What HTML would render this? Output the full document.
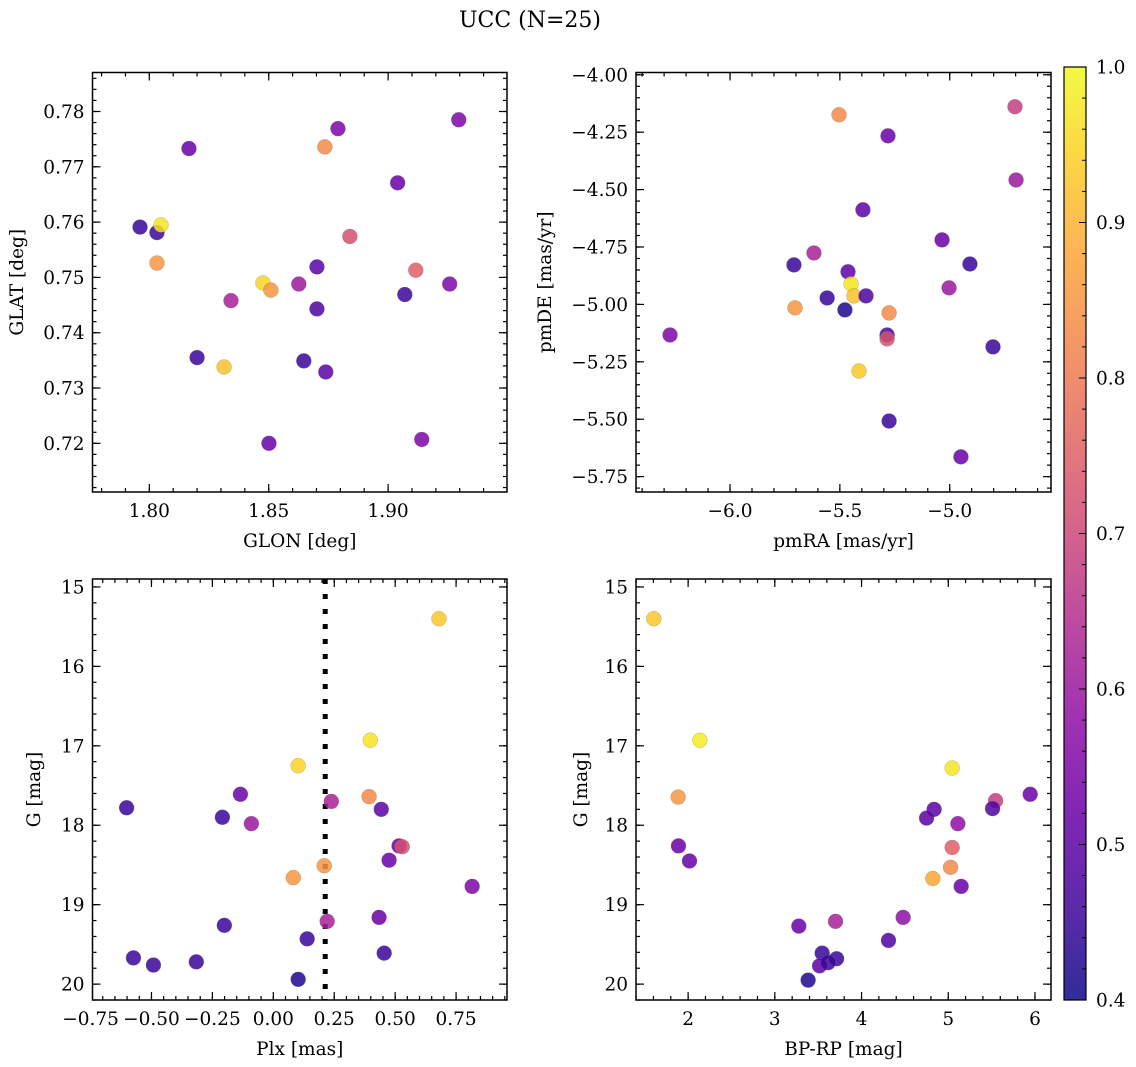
<!DOCTYPE html>
<html><head><meta charset="utf-8"><style>
html,body{margin:0;padding:0;background:#fff;}
svg{display:block;font-family:"DejaVu Serif","Liberation Serif",serif;}
</style></head><body>
<svg id="fig" width="1136" height="1067" viewBox="0 0 1136 1067" xmlns="http://www.w3.org/2000/svg">
<defs>
<linearGradient id="plasma" x1="0" y1="1" x2="0" y2="0">
<stop offset="0" stop-color="#0d0887"/><stop offset="0.1" stop-color="#41049d"/><stop offset="0.2" stop-color="#6a00a8"/><stop offset="0.3" stop-color="#8f0da4"/><stop offset="0.4" stop-color="#b12a90"/><stop offset="0.5" stop-color="#cc4778"/><stop offset="0.6" stop-color="#e16462"/><stop offset="0.7" stop-color="#f2844b"/><stop offset="0.8" stop-color="#fca636"/><stop offset="0.9" stop-color="#fcce25"/><stop offset="1" stop-color="#f0f921"/>
</linearGradient>
</defs>
<text x="530" y="27" font-size="22" text-anchor="middle">UCC (N=25)</text>
</svg>
<script>
// Panel 1: GLON vs GLAT
const p1Glon = [1.9296,1.8790,1.8166,1.8735,1.9040,1.7961,1.8032,1.8049,1.8840,1.8032,1.9116,1.8702,1.8476,1.8509,1.8626,1.9258,1.9070,1.8342,1.8702,1.8200,1.8647,1.8739,1.8313,1.8501,1.9141];
const p1Glat = [0.7785,0.7769,0.7733,0.7736,0.7671,0.7591,0.7581,0.7595,0.7574,0.7526,0.7513,0.7519,0.7490,0.7477,0.7488,0.7488,0.7469,0.7458,0.7443,0.7355,0.7349,0.7329,0.7338,0.7200,0.7207];
const p1Val = [0.55,0.55,0.52,0.83,0.52,0.45,0.45,0.97,0.72,0.85,0.75,0.5,0.95,0.85,0.6,0.55,0.45,0.62,0.48,0.45,0.45,0.5,0.92,0.52,0.55];
// Panel 2: pmRA vs pmDE
const p2PmRA = [-6.273,-5.504,-4.703,-5.281,-4.698,-5.395,-5.035,-5.618,-5.709,-4.908,-5.463,-5.449,-5.436,-5.381,-5.558,-5.003,-5.704,-5.477,-5.276,-5.285,-5.285,-4.803,-5.413,-5.276,-4.949];
const p2PmDE = [-5.133,-4.174,-4.139,-4.266,-4.458,-4.588,-4.719,-4.776,-4.828,-4.824,-4.858,-4.911,-4.963,-4.963,-4.972,-4.928,-5.015,-5.024,-5.037,-5.133,-5.150,-5.185,-5.290,-5.508,-5.664];
const p2Val = [0.55,0.83,0.68,0.52,0.6,0.5,0.52,0.62,0.45,0.45,0.5,0.97,0.92,0.48,0.45,0.6,0.85,0.42,0.83,0.48,0.72,0.45,0.93,0.45,0.52];
// Panel 3: Plx vs G
const p3Plx = [0.680,0.398,0.102,-0.135,-0.602,0.238,0.393,0.443,-0.209,-0.090,0.516,0.529,0.475,0.209,0.082,0.816,-0.201,0.221,0.434,0.139,-0.574,-0.492,-0.316,0.455,0.102];
const p3G = [15.40,16.93,17.25,17.61,17.78,17.70,17.64,17.80,17.90,17.98,18.26,18.27,18.44,18.51,18.66,18.77,19.26,19.21,19.16,19.43,19.67,19.76,19.72,19.61,19.94];
const p3Val = [0.93,0.97,0.95,0.52,0.45,0.62,0.83,0.5,0.45,0.6,0.52,0.72,0.52,0.85,0.85,0.55,0.45,0.62,0.52,0.45,0.45,0.45,0.45,0.45,0.42];
const plxLine = [0.213];
// Panel 4: BP-RP vs G
const p4BpRp = [1.604,2.135,1.885,1.889,2.016,3.277,3.700,3.546,3.712,3.516,3.615,3.384,5.045,5.945,5.546,5.511,4.837,4.750,5.111,5.045,5.027,4.822,5.149,4.480,4.311];
const p4G = [15.40,16.93,17.645,18.26,18.45,19.27,19.21,19.61,19.68,19.77,19.73,19.95,17.28,17.61,17.69,17.79,17.80,17.91,17.98,18.28,18.53,18.67,18.77,19.16,19.45];
const p4Val = [0.93,0.98,0.85,0.52,0.52,0.52,0.62,0.45,0.45,0.5,0.45,0.42,0.97,0.52,0.68,0.48,0.5,0.5,0.58,0.75,0.83,0.88,0.52,0.58,0.48];
// Tick labels
const p1XTicks = [1.80,1.85,1.90];
const p1YTicks = [0.72,0.73,0.74,0.75,0.76,0.77,0.78];
const p2XTicks = [-6.0,-5.5,-5.0];
const p2YTicks = [-4.00,-4.25,-4.50,-4.75,-5.00,-5.25,-5.50,-5.75];
const p3XTicks = [-0.75,-0.50,-0.25,0.00,0.25,0.50,0.75];
const gTicks = [15,16,17,18,19,20];
const p4XTicks = [2,3,4,5,6];
const cbTicks = [0.4,0.5,0.6,0.7,0.8,0.9,1.0];

const NS = "http://www.w3.org/2000/svg";
const svg = document.getElementById('fig');
const FS = 18.5, LFS = 18.5;
const stops = [[13,8,135],[65,4,157],[106,0,168],[143,13,164],[177,42,144],[204,71,120],[225,100,98],[242,132,75],[252,166,54],[252,206,37],[240,249,33]];
function plasma(v){
  let t=(v-0.4)/0.6; t=Math.max(0,Math.min(1,t));
  const f=t*10, i=Math.min(9,Math.floor(f)), r=f-i;
  const c=stops[i].map((a,k)=>Math.round(a+(stops[i+1][k]-a)*r));
  return 'rgb('+c.join(',')+')';
}
function el(tag, attrs, parent){
  const e=document.createElementNS(NS,tag);
  for(const k in attrs) e.setAttribute(k,attrs[k]);
  (parent||svg).appendChild(e); return e;
}
function fmt(v,d){ const s=Math.abs(v).toFixed(d); return (v<-1e-9?'\u2212':'')+s; }

function panel(o){
  const g=el('g',{});
  
  
  const sx=v=>o.L+(v-o.x0)/(o.x1-o.x0)*(o.R-o.L);
  const sy=v=>o.T+(v-o.y0)/(o.y1-o.y0)*(o.B-o.T);
  function ticks(min,max,step,isX,len){
    const lo=Math.min(min,max), hi=Math.max(min,max);
    const n0=Math.ceil(lo/step-1e-6), n1=Math.floor(hi/step+1e-6);
    for(let n=n0;n<=n1;n++){
      const v=n*step;
      if(isX){const x=sx(v);
        el('line',{x1:x,y1:o.B,x2:x,y2:o.B-len,stroke:'#000','stroke-width':1.2},g);
        el('line',{x1:x,y1:o.T,x2:x,y2:o.T+len,stroke:'#000','stroke-width':1.2},g);
      } else {const y=sy(v);
        el('line',{x1:o.L,y1:y,x2:o.L+len,y2:y,stroke:'#000','stroke-width':1.2},g);
        el('line',{x1:o.R,y1:y,x2:o.R-len,y2:y,stroke:'#000','stroke-width':1.2},g);
      }
    }
  }
  ticks(o.x0,o.x1,o.xminor,true,4); ticks(o.x0,o.x1,o.xmajor,true,8);
  ticks(o.y0,o.y1,o.yminor,false,4); ticks(o.y0,o.y1,o.ymajor,false,8);
  o.xt.forEach(v=>{
    const t=el('text',{x:sx(v),y:o.B+25,'font-size':FS,'text-anchor':'middle'},g);
    
    
    t.textContent=fmt(v,o.xd);
  });
  o.yt.forEach(v=>{
    const t=el('text',{x:o.L-8,y:sy(v)+6.5,'font-size':FS,'text-anchor':'end'},g);
    
    
    t.textContent=fmt(v,o.yd);
  });
  const xl=el('text',{x:(o.L+o.R)/2,y:o.B+55,'font-size':LFS,'text-anchor':'middle'},g);
  
  
  xl.textContent=o.xlabel;
  const yx=o.ylx, yy=(o.T+o.B)/2;
  const yl=el('text',{x:yx,y:yy,'font-size':LFS,'text-anchor':'middle',transform:'rotate(-90 '+yx+' '+yy+')'},g);
  
  
  yl.textContent=o.ylabel;
  if(o.vline!==undefined){
    const x=sx(o.vline);
    const ln=el('line',{x1:x,y1:o.T,x2:x,y2:o.B,stroke:'#000','stroke-width':5,'stroke-dasharray':'5 10'},g);
    
    
  }
  for(let i=0;i<o.xs.length;i++){
    const c=el('circle',{cx:sx(o.xs[i]),cy:sy(o.ys[i]),r:7.5,fill:plasma(o.cs[i]),'fill-opacity':0.85,stroke:'#777','stroke-width':0.4,'stroke-opacity':0.6},g);
    
    
  }
  const fr=el('rect',{x:o.L,y:o.T,width:o.R-o.L,height:o.B-o.T,fill:'none',stroke:'#000','stroke-width':1.5},g);
  
  
}

panel({name:'glon-glat-panel',L:92.5,R:507,T:72.5,B:492,x0:1.7762,x1:1.9498,y0:0.78705,y1:0.7112,
  xmajor:0.05,xminor:0.01,ymajor:0.01,yminor:0.002,xt:p1XTicks,yt:p1YTicks,xd:2,yd:2,
  xlabel:'GLON [deg]',ylabel:'GLAT [deg]',ylx:23,xs:p1Glon,ys:p1Glat,cs:p1Val});
panel({name:'proper-motion-panel',L:636,R:1051,T:72.5,B:492,x0:-6.428,x1:-4.539,y0:-3.99,y1:-5.817,
  xmajor:0.5,xminor:0.1,ymajor:0.25,yminor:0.05,xt:p2XTicks,yt:p2YTicks,xd:1,yd:2,
  xlabel:'pmRA [mas/yr]',ylabel:'pmDE [mas/yr]',ylx:551,xs:p2PmRA,ys:p2PmDE,cs:p2Val});
panel({name:'parallax-magnitude-panel',L:92.5,R:507,T:579,B:1000,x0:-0.742,x1:0.959,y0:14.9,y1:20.2,
  xmajor:0.25,xminor:0.05,ymajor:1,yminor:0.2,xt:p3XTicks,yt:gTicks,xd:2,yd:0,
  xlabel:'Plx [mas]',ylabel:'G [mag]',ylx:40,xs:p3Plx,ys:p3G,cs:p3Val,vline:plxLine[0]});
panel({name:'color-magnitude-panel',L:636,R:1051,T:579,B:1000,x0:1.399,x1:6.185,y0:14.9,y1:20.2,
  xmajor:1,xminor:0.2,ymajor:1,yminor:0.2,xt:p4XTicks,yt:gTicks,xd:0,yd:0,
  xlabel:'BP-RP [mag]',ylabel:'G [mag]',ylx:587,xs:p4BpRp,ys:p4G,cs:p4Val});

// Colorbar
const cb=el('g',{});


const cT=67, cB=1000, cL=1064, cR=1086;
el('rect',{x:cL,y:cT,width:cR-cL,height:cB-cT,fill:'url(#plasma)','fill-opacity':0.85},cb);
el('rect',{x:cL,y:cT,width:cR-cL,height:cB-cT,fill:'none',stroke:'#000','stroke-width':1.2},cb);
const cy=v=>cB-(v-0.4)/0.6*(cB-cT);
for(let n=20;n<=50;n++){const v=n*0.02;const y=cy(v);
  el('line',{x1:cR,y1:y,x2:cR-(n%5===0?7:4),y2:y,stroke:'#000','stroke-width':1},cb);}
cbTicks.forEach(v=>{
  const t=el('text',{x:cR+10,y:cy(v)+6.5,'font-size':FS},cb);
  
  
  t.textContent=v.toFixed(1);
});
</script>
</body></html>
